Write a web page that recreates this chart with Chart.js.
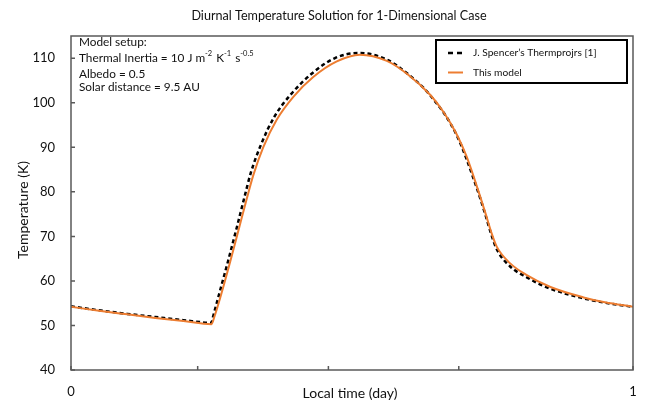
<!DOCTYPE html>
<html>
<head>
<meta charset="utf-8">
<script src="https://cdn.jsdelivr.net/npm/chart.js@4"></script>
<style>
  html, body { margin: 0; padding: 0; background: #fff; }
  #wrap { width: 648px; height: 405px; }
</style>
</head>
<body>
<div id="wrap"><canvas id="myChart" width="648" height="405"></canvas></div>
<script>
// Local time (fraction of day) and temperature (K)
const timeModel = [0, 0.05, 0.10, 0.15, 0.20, 0.25, 0.255, 0.265, 0.283, 0.298, 0.3126, 0.324, 0.342, 0.366, 0.396, 0.431, 0.473, 0.514, 0.562, 0.60, 0.639, 0.6625, 0.686, 0.704, 0.722, 0.737, 0.749, 0.7575, 0.781, 0.811, 0.852, 0.912, 0.95, 1.0];
const tempModel = [54.2, 53.3, 52.5, 51.7, 51.0, 50.3, 51.9, 56.0, 64.2, 71.4, 78.4, 83.6, 90.0, 96.2, 101.4, 105.8, 109.3, 110.8, 109.4, 106.3, 101.8, 98.0, 93.0, 87.9, 81.3, 75.4, 70.5, 67.7, 64.0, 61.3, 58.7, 56.3, 55.2, 54.2];

const timeSpencer = [0, 0.05, 0.10, 0.15, 0.20, 0.25, 0.252, 0.262, 0.280, 0.295, 0.309, 0.320, 0.338, 0.362, 0.392, 0.427, 0.469, 0.512, 0.562, 0.60, 0.639, 0.686, 0.722, 0.737, 0.749, 0.758, 0.781, 0.811, 0.852, 0.912, 0.95, 1.0];
const tempSpencer = [54.3, 53.4, 52.6, 51.9, 51.2, 50.6, 51.6, 56.3, 64.7, 72.0, 79.0, 84.3, 90.6, 96.9, 102.0, 106.4, 110.0, 111.2, 109.7, 106.4, 101.7, 92.8, 80.9, 75.0, 70.0, 67.0, 63.3, 60.8, 58.3, 56.1, 55.1, 54.2];

const xTickValues = [0, 0.2254, 0.458, 0.690, 1];
const xTickLabels = ["0", "", "", "", "1"];

const FONT = "Lato, 'Noto Sans', sans-serif";
const ORANGE = "#ED7D31";
const AXIS = "#595959";

const ctx = document.getElementById("myChart");

// title, frame, inward ticks, axis titles, setup text and legend box
const decorations = {
  id: "decorations",
  afterDraw(chart) {
    const c = chart.ctx;
    const a = chart.chartArea;
    const xs = chart.scales.x;
    const ys = chart.scales.y;
    c.save();

    c.fillStyle = "#111";
    c.textAlign = "center";
    c.textBaseline = "middle";
    c.font = "12.6px " + FONT;
    c.fillText("Diurnal Temperature Solution for 1-Dimensional Case", 339, 16);

    // plot frame
    c.strokeStyle = AXIS;
    c.lineWidth = 1.5;
    c.strokeRect(a.left, a.top, a.right - a.left, a.bottom - a.top);

    // inward tick marks
    c.beginPath();
    xs.ticks.forEach((t) => {
      const px = xs.getPixelForValue(t.value);
      c.moveTo(px, a.bottom);
      c.lineTo(px, a.bottom - 4);
    });
    ys.ticks.forEach((t) => {
      if (t.value % 10 !== 0) return;
      const py = ys.getPixelForValue(t.value);
      c.moveTo(a.left, py);
      c.lineTo(a.left + 4, py);
    });
    c.stroke();

    // axis titles
    c.font = "14px " + FONT;
    c.fillText("Local time (day)", 350, 393);
    c.save();
    c.translate(23, 210);
    c.rotate(-Math.PI / 2);
    c.fillText("Temperature (K)", 0, 0);
    c.restore();

    // model setup text
    c.textAlign = "left";
    c.font = "11.8px " + FONT;
    c.fillText("Model setup:", 79, 42);
    let x = 79;
    const parts = [
      ["Thermal Inertia = 10 J m", false],
      ["-2", true],
      [" K", false],
      ["-1", true],
      [" s", false],
      ["-0.5", true],
    ];
    parts.forEach(([txt, sup]) => {
      c.font = (sup ? "7.5px " : "11.8px ") + FONT;
      c.fillText(txt, x, sup ? 54 : 58);
      x += c.measureText(txt).width + (sup ? 1 : 0);
    });
    c.font = "11.8px " + FONT;
    c.fillText("Albedo = 0.5", 79, 74);
    c.fillText("Solar distance = 9.5 AU", 79, 87);

    // legend box
    c.strokeStyle = "#000";
    c.lineWidth = 2;
    c.strokeRect(436, 40, 191, 43);
    c.lineWidth = 2.5;
    c.setLineDash([5, 4]);
    c.beginPath();
    c.moveTo(448, 53);
    c.lineTo(462, 53);
    c.stroke();
    c.setLineDash([]);
    c.strokeStyle = ORANGE;
    c.lineWidth = 2;
    c.beginPath();
    c.moveTo(448, 72.5);
    c.lineTo(463, 72.5);
    c.stroke();
    c.font = "10.2px " + FONT;
    c.fillStyle = "#111";
    c.fillText(chart.data.datasets[1].label, 473, 53);
    c.fillText(chart.data.datasets[0].label, 473, 73);

    c.restore();
  },
};

new Chart(ctx, {
  type: "line",
  data: {
    datasets: [
      {
        label: "This model",
        data: timeModel.map((t, i) => ({ x: t, y: tempModel[i] })),
        borderColor: ORANGE,
        borderWidth: 2,
        pointRadius: 0,
        cubicInterpolationMode: "monotone",
        order: 0,
      },
      {
        label: "J. Spencer\u2019s Thermprojrs [1]",
        data: timeSpencer.map((t, i) => ({ x: t, y: tempSpencer[i] })),
        borderColor: "#000",
        borderWidth: 2.5,
        borderDash: [4, 3],
        pointRadius: 0,
        cubicInterpolationMode: "monotone",
        order: 1,
      },
    ],
  },
  options: {
    responsive: false,
    animation: false,
    layout: { padding: { left: 0, right: 15, top: 36, bottom: 0 } },
    plugins: {
      legend: { display: false },
      tooltip: { enabled: false },
      title: { display: false },
    },
    scales: {
      x: {
        type: "linear",
        min: 0,
        max: 1,
        grid: { display: false, drawTicks: false },
        border: { display: false },
        afterBuildTicks: (scale) => {
          scale.ticks = xTickValues.map((v) => ({ value: v }));
        },
        afterFit: (scale) => {
          scale.height = 35;
          scale.paddingLeft = 0;
          scale.paddingRight = 0;
        },
        ticks: {
          autoSkip: false,
          maxRotation: 0,
          padding: 14,
          color: "#111",
          font: { family: FONT, size: 13 },
          callback: (v, i) => xTickLabels[i],
        },
      },
      y: {
        min: 40,
        max: 115,
        grid: { display: false, drawTicks: false },
        border: { display: false },
        afterFit: (scale) => {
          scale.width = 71;
          scale.paddingTop = 0;
          scale.paddingBottom = 0;
        },
        ticks: {
          stepSize: 10,
          padding: 16,
          color: "#111",
          font: { family: FONT, size: 13 },
          callback: (v) => (v % 10 === 0 ? v : ""),
        },
      },
    },
  },
  plugins: [decorations],
});
</script>
</body>
</html>
